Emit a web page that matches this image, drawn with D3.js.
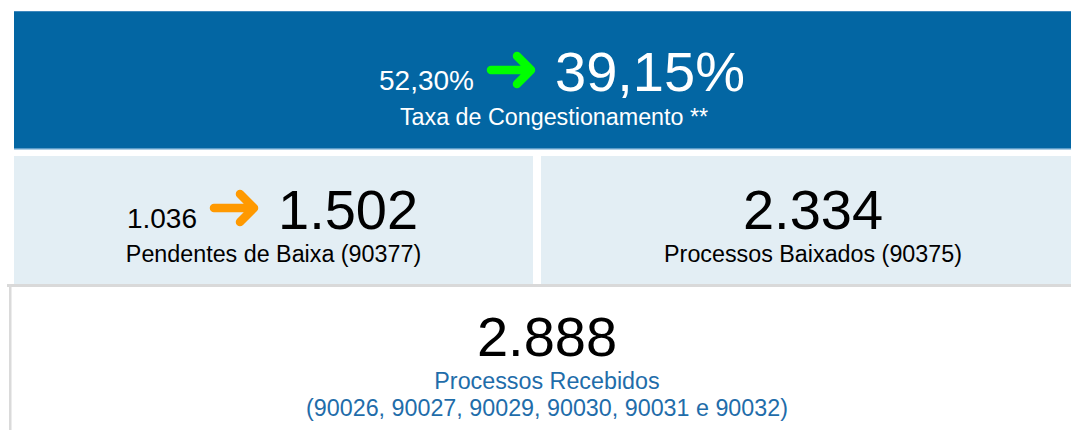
<!DOCTYPE html>
<html>
<head>
<meta charset="utf-8">
<script src="https://cdn.jsdelivr.net/npm/d3@7"></script>
<style>
  html, body { margin: 0; padding: 0; background: #fff; }
  svg { display: block; font-family: "Liberation Sans", Arial, sans-serif; }
</style>
</head>
<body>
<div id="chart"></div>
<script>
// card data
var titles = ["Taxa de Congestionamento **", "Pendentes de Baixa (90377)", "Processos Baixados (90375)", "Processos Recebidos"];
var subtitles = [null, null, null, "(90026, 90027, 90029, 90030, 90031 e 90032)"];
var previousValues = [0.5230, 1036, null, null];
var currentValues = [0.3915, 1502, 2334, 2888];
var isPercent = [true, false, false, false];
var arrowColors = ["#00ff00", "#ff9900", null, null];

var width = 1071, height = 430;

var br = d3.formatLocale({decimal: ",", thousands: ".", grouping: [3], currency: ["R$", ""]});
var fmtPct = br.format(".2%"), fmtInt = br.format(",d");
function fmt(i, v) { return isPercent[i] ? fmtPct(v) : fmtInt(v); }

// layout of the cards
var cards = [
  {x: 14, y: 11, w: 1080, h: 138, fill: "#0366a3", text: "#ffffff", sub: "#ffffff", arrowX: 487, base: 91, labelBase: 125},
  {x: 14, y: 156, w: 519, h: 128, fill: "#e3eef4", text: "#000000", sub: "#000000", arrowX: 210, base: 229, labelBase: 262},
  {x: 541, y: 156, w: 544, h: 128, fill: "#e3eef4", text: "#000000", sub: "#000000", arrowX: null, base: 229, labelBase: 262},
  {x: 7, y: 286, w: 1080, h: 144, fill: "#ffffff", text: "#000000", sub: "#1f6daa", arrowX: null, base: 356, labelBase: 389}
];

var svg = d3.select("#chart").append("svg")
    .attr("width", width)
    .attr("height", height);

svg.selectAll("rect.card")
    .data(cards)
  .enter().append("rect")
    .attr("class", "card")
    .attr("x", function(d) { return d.x; })
    .attr("y", function(d) { return d.y; })
    .attr("width", function(d) { return d.w; })
    .attr("height", function(d) { return d.h; })
    .attr("fill", function(d) { return d.fill; });

// light edges of the blue card
svg.append("rect").attr("x", 14).attr("y", 11).attr("width", 1080).attr("height", 1).attr("fill", "#3f88bd");
svg.append("rect").attr("x", 14).attr("y", 148).attr("width", 1080).attr("height", 1.5).attr("fill", "#5a9cc9");

// grey frame of the bottom card
svg.append("rect").attr("x", 7).attr("y", 284).attr("width", 1080).attr("height", 3).attr("fill", "#d9d9d9");
svg.append("rect").attr("x", 9).attr("y", 284).attr("width", 2.5).attr("height", 146).attr("fill", "#dadada");

var g = svg.selectAll("g.kpi")
    .data(cards)
  .enter().append("g")
    .attr("class", "kpi");

g.each(function(c, i) {
  var sel = d3.select(this);
  var cx = c.x + c.w / 2;

  if (previousValues[i] != null) {
    var ax = c.arrowX, ay = c.base - 21;
    sel.append("text")
        .attr("x", ax - 13)
        .attr("y", c.base - 1)
        .attr("text-anchor", "end")
        .attr("font-size", 28)
        .attr("fill", c.text)
        .text(fmt(i, previousValues[i]));

    var p = d3.path();
    p.moveTo(ax + 4, ay);
    p.lineTo(ax + 44, ay);
    p.moveTo(ax + 30, ay - 14);
    p.lineTo(ax + 44, ay);
    p.lineTo(ax + 30, ay + 14);
    sel.append("path")
        .attr("d", p.toString())
        .attr("fill", "none")
        .attr("stroke", arrowColors[i])
        .attr("stroke-width", 8.5)
        .attr("stroke-linecap", "round")
        .attr("stroke-linejoin", "round");

    sel.append("text")
        .attr("x", ax + 68)
        .attr("y", c.base)
        .attr("text-anchor", "start")
        .attr("font-size", 56)
        .attr("fill", c.text)
        .text(fmt(i, currentValues[i]));
  } else {
    sel.append("text")
        .attr("x", cx)
        .attr("y", c.base)
        .attr("text-anchor", "middle")
        .attr("font-size", 56)
        .attr("fill", c.text)
        .text(fmt(i, currentValues[i]));
  }

  sel.append("text")
      .attr("x", cx)
      .attr("y", c.labelBase)
      .attr("text-anchor", "middle")
      .attr("font-size", 23.3)
      .attr("fill", c.sub)
      .text(titles[i]);

  if (subtitles[i]) {
    sel.append("text")
        .attr("x", cx)
        .attr("y", c.labelBase + 27)
        .attr("text-anchor", "middle")
        .attr("font-size", 23.3)
        .attr("fill", c.sub)
        .text(subtitles[i]);
  }
});
</script>
</body>
</html>
